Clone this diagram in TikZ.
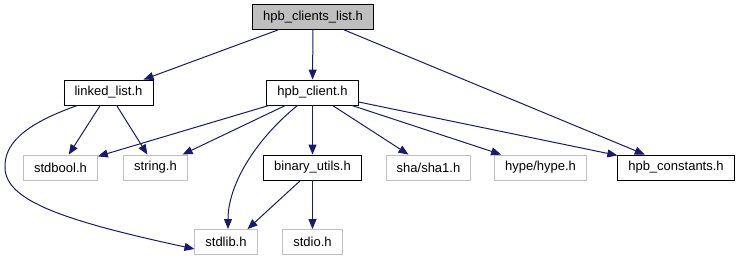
\documentclass[tikz,border=0pt]{standalone}
\usepackage{fontspec}
\setmainfont{Liberation Sans}
\usepackage{tikz}
\usetikzlibrary{arrows.meta}

\definecolor{edgeblue}{RGB}{25,25,112}
\definecolor{sysgray}{RGB}{191,191,191}
\definecolor{rootfill}{RGB}{191,191,191}

\tikzset{
  hdr/.style={draw=black, line width=0.9pt, fill=white, minimum height=25pt,
              inner xsep=10.5pt, inner ysep=0pt,
              font=\fontsize{13}{15}\selectfont},
  syshdr/.style={hdr, draw=sysgray},
  roothdr/.style={hdr, fill=rootfill},
  dep/.style={draw=edgeblue, line width=1pt,
              -{Triangle[length=10pt,width=8pt]}},
}

\begin{document}
\begin{tikzpicture}[x=1pt,y=-1pt]
    \useasboundingbox (0,0) rectangle (740,261);

    \node [roothdr] (clientslist) at (313,17)   {hpb\_clients\_list.h};

    \node [hdr]     (linkedlist)  at (108.5,92.5) {linked\_list.h};
    \node [hdr]     (client)      at (312.5,92.5) {hpb\_client.h};

    \node [syshdr]  (stdbool)     at (60.5,167.5)  {stdbool.h};
    \node [syshdr]  (string)      at (155.5,167.5) {string.h};
    \node [hdr]     (binutils)    at (312.5,167.5) {binary\_utils.h};
    \node [syshdr]  (sha)         at (428.5,167.5) {sha/sha1.h};
    \node [syshdr]  (hype)        at (540.5,167.5) {hype/hype.h};
    \node [hdr]     (constants)   at (676,167.5)   {hpb\_constants.h};

    \node [syshdr]  (stdlib)      at (226,242)   {stdlib.h};
    \node [syshdr]  (stdio)       at (312.5,242) {stdio.h};

    \draw [dep] (clientslist) -- (linkedlist);
    \draw [dep] (clientslist) -- (client);
    \draw [dep] (clientslist) -- (constants);

    \draw [dep] (linkedlist) -- (stdbool);
    \draw [dep] (linkedlist) -- (string);
    \draw [dep] ([xshift=-31pt]linkedlist.south) .. controls (22,125) and (4,145) .. (5,168)
                .. controls (6,200) and (60,220) .. ([yshift=-7pt]stdlib.west);

    \draw [dep] (client) -- (stdbool);
    \draw [dep] (client) -- (string);
    \draw [dep] ([xshift=-15pt]client.south) .. controls (255,140) and (228,185) .. ([xshift=2pt]stdlib.north);
    \draw [dep] (client) -- (binutils);
    \draw [dep] (client) -- (sha);
    \draw [dep] (client) -- (hype);
    \draw [dep] (client) -- (constants);

    \draw [dep] ([xshift=-12pt]binutils.south) -- ([xshift=-10pt]stdlib.north east);
    \draw [dep] (binutils) -- (stdio);
\end{tikzpicture}
\end{document}
